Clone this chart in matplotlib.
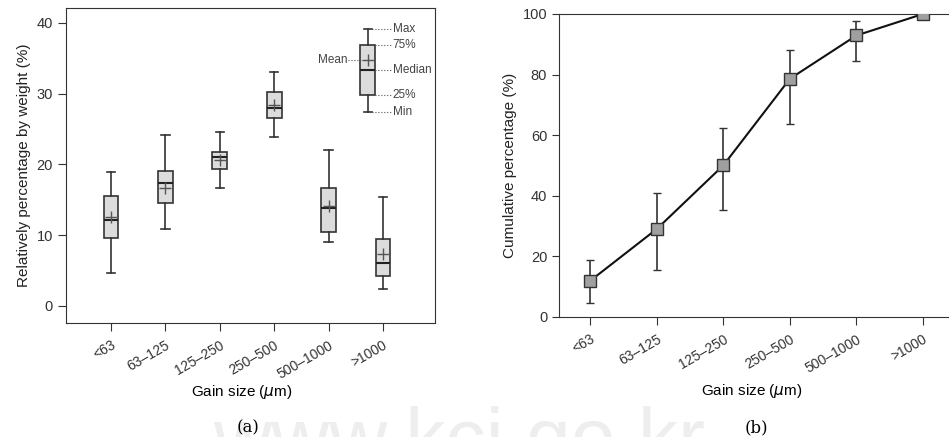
import matplotlib
matplotlib.use("Agg")
import matplotlib.pyplot as plt

# grain size classes
groups = ['<63', '63–125', '125–250', '250–500', '500–1000', '>1000']

# (a) box plot stats, % by weight
wmin = [4.6, 10.8, 16.6, 23.8, 9.1, 2.4]
q1 = [9.6, 14.5, 19.3, 26.5, 10.4, 4.3]
med = [12.2, 17.3, 21.1, 28.0, 13.8, 6.1]
q3 = [15.5, 19.0, 21.7, 30.2, 16.7, 9.4]
wmax = [18.9, 24.2, 24.5, 33.0, 22.0, 15.4]
means = [12.5, 16.7, 20.6, 28.4, 14.1, 7.3]

# key box in the upper right corner
key_stats = {'whislo': 27.4, 'q1': 29.8, 'med': 33.3, 'q3': 36.8, 'whishi': 39.1, 'mean': 34.8}
key_pos = 5.72

# (b) cumulative percentage with error range
cum = [11.9, 29.0, 50.0, 78.6, 92.9, 100.0]
cum_lo = [4.4, 15.6, 35.4, 63.7, 84.4, 100.0]
cum_hi = [18.6, 40.8, 62.5, 88.1, 97.6, 100.0]

plt.rcParams['font.family'] = ['Liberation Sans', 'DejaVu Sans']
dark = '#333333'

fig = plt.figure(figsize=(9.49, 4.37), dpi=100)

# watermark
fig.text(0.225, -0.065, 'www.kci.go.kr', fontsize=58, color='#eeeeee', zorder=0)

# ---- panel (a)
ax1 = fig.add_axes([0.0695, 0.261, 0.389, 0.721])
stats = []
for i in range(len(groups)):
    stats.append({'whislo': wmin[i], 'q1': q1[i], 'med': med[i], 'q3': q3[i],
                  'whishi': wmax[i], 'mean': means[i], 'fliers': []})
box_kw = dict(widths=0.27, capwidths=0.15, showmeans=True, patch_artist=True,
              boxprops=dict(facecolor='#dcdcdc', edgecolor=dark, linewidth=1.2),
              medianprops=dict(color='#222222', linewidth=1.5),
              whiskerprops=dict(color=dark, linewidth=1.2),
              capprops=dict(color=dark, linewidth=1.2),
              meanprops=dict(marker='+', markeredgecolor='#555555', markersize=8, markeredgewidth=1))
ax1.bxp(stats, positions=range(1, 7), **box_kw)
k = dict(key_stats)
k['fliers'] = []
ax1.bxp([k], positions=[key_pos], **box_kw)

# key annotations
dot = dict(color='#555555', linewidth=0.8, linestyle=':')
lab_x = 6.18
for name, val in [('Max', k['whishi']), ('75%', k['q3']), ('Median', k['med']),
                  ('25%', k['q1']), ('Min', k['whislo'])]:
    ax1.plot([key_pos + 0.02, lab_x - 0.02], [val, val], **dot)
    ax1.text(lab_x, val, name, fontsize=8.5, color='#444444', va='center', ha='left')
ax1.plot([5.35, key_pos - 0.05], [k['mean'], k['mean']], **dot)
ax1.text(5.34, k['mean'], 'Mean', fontsize=8.5, color='#444444', va='center', ha='right')

ax1.set_xlim(0.17, 6.96)
ax1.set_ylim(-2.4, 42.1)
ax1.set_yticks([0, 10, 20, 30, 40])
ax1.set_xticks(range(1, 7))
ax1.set_xticklabels(groups, rotation=30, ha='right', rotation_mode='anchor', fontsize=10)
ax1.tick_params(axis='y', labelsize=10.5, length=6, colors=dark)
ax1.tick_params(axis='x', length=6, pad=5, colors=dark)
for s in ax1.spines.values():
    s.set_color(dark)
ax1.set_ylabel('Relatively percentage by weight (%)', fontsize=11, color='#222222')
ax1.set_xlabel('Gain size ($\\mu$m)', fontsize=11)
ax1.xaxis.set_label_coords(0.477, -0.192)
fig.text(0.261, 1 - 428 / 437, '(a)', fontsize=12, family='DejaVu Serif', ha='center', va='center')

# ---- panel (b)
ax2 = fig.add_axes([0.589, 0.275, 0.42, 0.693])
x = range(1, 7)
err = [[c - lo for c, lo in zip(cum, cum_lo)], [hi - c for c, hi in zip(cum, cum_hi)]]
ax2.errorbar(x, cum, yerr=err, color='#111111', linewidth=1.5, ecolor=dark,
             elinewidth=1.2, capsize=3, marker='s', markersize=8,
             markerfacecolor='#a0a0a0', markeredgecolor='#333333', markeredgewidth=1, zorder=3)
ax2.set_xlim(0.53, 6.52)
ax2.set_ylim(0, 100)
ax2.set_yticks([0, 20, 40, 60, 80, 100])
ax2.set_xticks(list(x))
ax2.set_xticklabels(groups, rotation=30, ha='right', rotation_mode='anchor', fontsize=10)
ax2.tick_params(axis='y', labelsize=10.5, length=5, colors=dark)
ax2.tick_params(axis='x', length=6, pad=5, colors=dark)
ax2.spines['right'].set_visible(False)
for s in ax2.spines.values():
    s.set_color(dark)
ax2.set_ylabel('Cumulative percentage (%)', fontsize=11, color='#222222')
ax2.set_xlabel('Gain size ($\\mu$m)', fontsize=11)
ax2.xaxis.set_label_coords(0.484, -0.216)
ax2.patch.set_alpha(0)
ax1.patch.set_alpha(0)
fig.text(0.797, 1 - 428 / 437, '(b)', fontsize=12, family='DejaVu Serif', ha='center', va='center')

fig.savefig('out.png', dpi=100)
